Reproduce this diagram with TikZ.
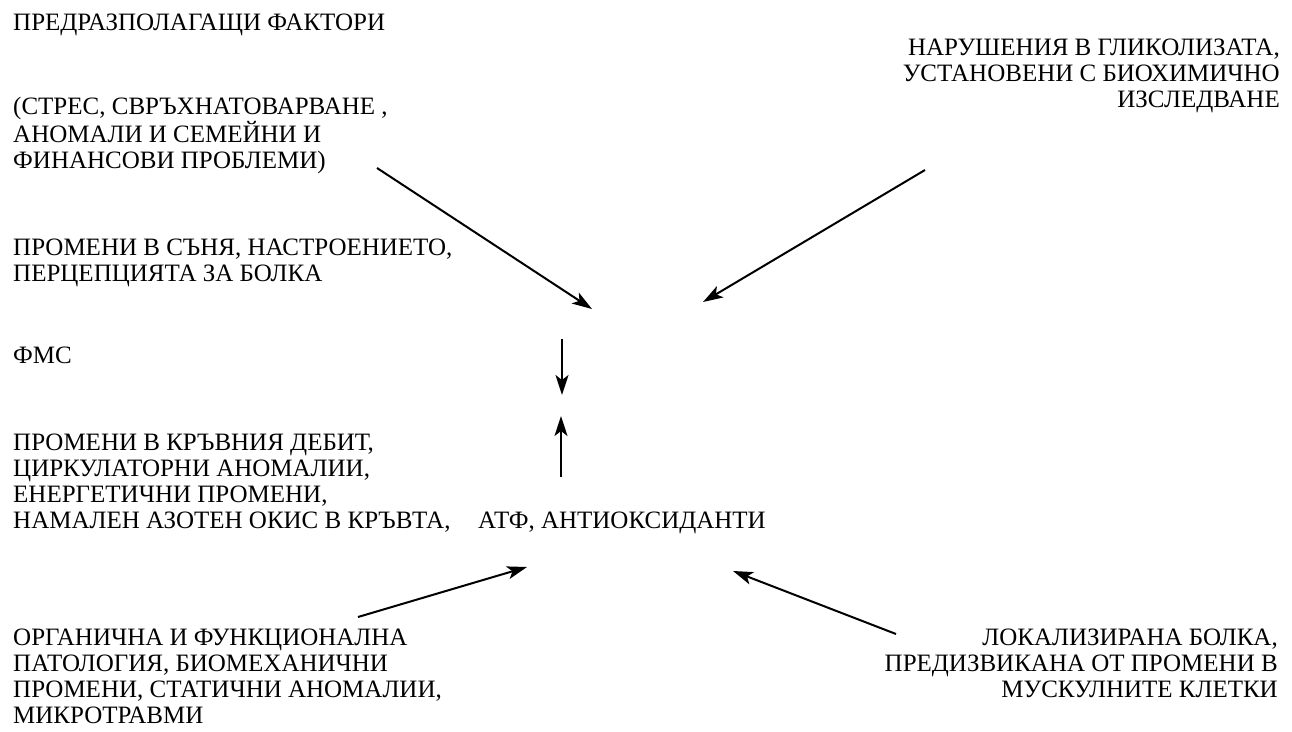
\documentclass[tikz,border=0pt]{standalone}
\usepackage{fontspec}
\setmainfont{Liberation Serif}
\usetikzlibrary{arrows.meta}
\begin{document}
\begin{tikzpicture}[x=1pt,y=-1pt,
  lbl/.style={inner sep=0pt, font=\fontsize{25}{26}\selectfont},
  lft/.style={lbl, anchor=base west, align=left},
  rgt/.style={lbl, anchor=base east, align=right},
  arr/.style={line width=2pt, -{Stealth[length=20pt,width=13pt,inset=5pt]}}]
\useasboundingbox (0,0) rectangle (1292,731);
\node[lft] (fact) at (13,30) {ПРЕДРАЗПОЛАГАЩИ ФАКТОРИ};
\node[lft] (stres) at (13,168) {(СТРЕС, СВРЪХНАТОВАРВАНЕ ,\\АНОМАЛИ И СЕМЕЙНИ И\\ФИНАНСОВИ ПРОБЛЕМИ)};
\node[lft] (son) at (13,281) {ПРОМЕНИ В СЪНЯ, НАСТРОЕНИЕТО,\\ПЕРЦЕПЦИЯТА ЗА БОЛКА};
\node[lft] (fms) at (13,363) {ФМС};
\node[lft] (krav) at (13,528) {ПРОМЕНИ В КРЪВНИЯ ДЕБИТ,\\ЦИРКУЛАТОРНИ АНОМАЛИИ,\\ЕНЕРГЕТИЧНИ ПРОМЕНИ,\\НАМАЛЕН АЗОТЕН ОКИС В КРЪВТА,};
\node[lft] (atf) at (478,528) {АТФ, АНТИОКСИДАНТИ};
\node[rgt] (glik) at (1280,107) {НАРУШЕНИЯ В ГЛИКОЛИЗАТА,\\УСТАНОВЕНИ С БИОХИМИЧНО\\ИЗСЛЕДВАНЕ};
\node[lft] (org) at (13,723) {ОРГАНИЧНА И ФУНКЦИОНАЛНА\\ПАТОЛОГИЯ, БИОМЕХАНИЧНИ\\ПРОМЕНИ, СТАТИЧНИ АНОМАЛИИ,\\МИКРОТРАВМИ};
\node[rgt] (lok) at (1278,697) {ЛОКАЛИЗИРАНА БОЛКА,\\ПРЕДИЗВИКАНА ОТ ПРОМЕНИ В\\МУСКУЛНИТЕ КЛЕТКИ};
\coordinate (a1s) at (377,168); \coordinate (a1e) at (592,309);
\coordinate (a2s) at (925,170); \coordinate (a2e) at (703,302);
\coordinate (a3s) at (562,339); \coordinate (a3e) at (562,395);
\coordinate (a4s) at (561,477); \coordinate (a4e) at (561,416);
\coordinate (a5s) at (358,617); \coordinate (a5e) at (527,567);
\coordinate (a6s) at (896,634); \coordinate (a6e) at (733,571);
\draw[arr] (a1s) -- (a1e);
\draw[arr] (a2s) -- (a2e);
\draw[arr] (a3s) -- (a3e);
\draw[arr] (a4s) -- (a4e);
\draw[arr] (a5s) -- (a5e);
\draw[arr] (a6s) -- (a6e);
\end{tikzpicture}
\end{document}
